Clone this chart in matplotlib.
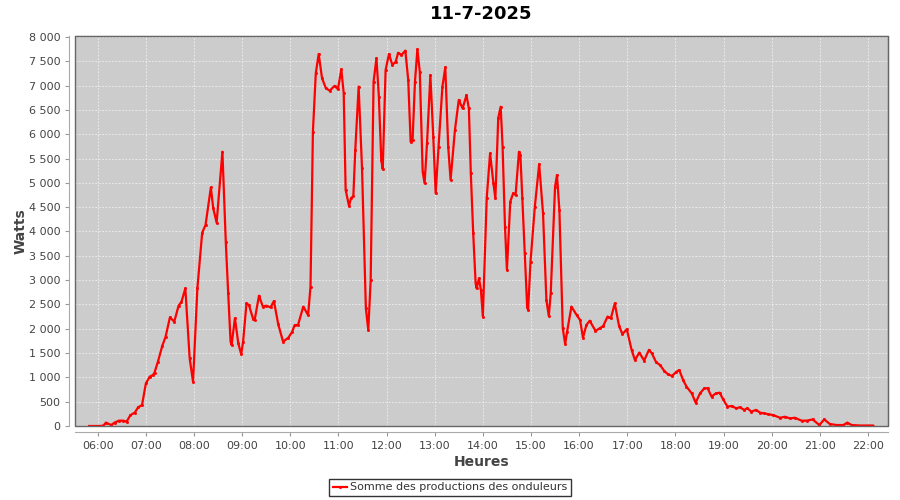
import matplotlib
matplotlib.use("Agg")
import matplotlib.pyplot as plt
from matplotlib.ticker import FuncFormatter, MultipleLocator
from matplotlib.patches import Rectangle

title = "11-7-2025"
series_name = "Somme des productions des onduleurs"

# time of day in hours, production in watts
hours = [
    5.82, 5.95, 6.05, 6.12, 6.17, 6.28, 6.35, 6.44, 6.53, 6.60, 6.68, 6.77, 6.84, 6.92,
    7.00, 7.08, 7.15, 7.18, 7.25, 7.34, 7.41, 7.50, 7.59, 7.68, 7.74, 7.82, 7.91, 7.98,
    8.07, 8.17, 8.24, 8.35, 8.40, 8.47, 8.59, 8.66, 8.71, 8.76, 8.78, 8.85, 8.92, 8.98,
    9.02, 9.09, 9.14, 9.23, 9.26, 9.35, 9.43, 9.50, 9.59, 9.66, 9.75, 9.85, 9.96,
    10.04, 10.09, 10.16, 10.27, 10.37, 10.42, 10.47, 10.53, 10.59, 10.66, 10.74, 10.82,
    10.92, 10.99, 11.06, 11.11, 11.15, 11.22, 11.26, 11.31, 11.35, 11.42, 11.49, 11.57,
    11.62, 11.67, 11.73, 11.79, 11.84, 11.89, 11.92, 11.98, 12.05, 12.12, 12.19, 12.24,
    12.31, 12.39, 12.45, 12.50, 12.54, 12.59, 12.64, 12.69, 12.75, 12.79, 12.84, 12.91,
    12.97, 13.02, 13.08, 13.16, 13.22, 13.28, 13.33, 13.42, 13.50, 13.58, 13.66, 13.71,
    13.75, 13.80, 13.85, 13.87, 13.92, 13.96, 14.00, 14.08, 14.15, 14.22, 14.26, 14.32,
    14.37, 14.41, 14.46, 14.50, 14.57, 14.63, 14.68, 14.75, 14.78, 14.82, 14.87, 14.92,
    14.94, 14.99, 15.08, 15.17, 15.25, 15.32, 15.37, 15.41, 15.50, 15.54, 15.59, 15.66,
    15.71, 15.75, 15.84, 15.95, 16.02, 16.08, 16.15, 16.22, 16.34, 16.43, 16.50, 16.59,
    16.66, 16.74, 16.83, 16.90, 16.99, 17.09, 17.16, 17.25, 17.35, 17.45, 17.51, 17.60,
    17.68, 17.77, 17.85, 17.93, 18.02, 18.08, 18.16, 18.23, 18.34, 18.42, 18.51, 18.60,
    18.67, 18.75, 18.84, 18.92, 18.99, 19.08, 19.17, 19.26, 19.34, 19.43, 19.49, 19.58,
    19.67, 19.76, 19.84, 19.93, 20.03, 20.17, 20.28, 20.38, 20.48, 20.62, 20.73, 20.85,
    20.99, 21.09, 21.21, 21.35, 21.49, 21.57, 21.66, 21.83, 22.10,
]
watts = [
    0, 0, 0, 10, 70, 20, 70, 110, 110, 90, 225, 275, 385, 430,
    875, 1015, 1050, 1100, 1320, 1645, 1835, 2235, 2145, 2475, 2555, 2830, 1390, 910,
    2830, 3975, 4135, 4905, 4475, 4180, 5640, 3790, 2730, 1735, 1665, 2215, 1700, 1475,
    1735, 2520, 2490, 2195, 2180, 2680, 2455, 2475, 2440, 2570, 2090, 1735, 1815,
    1940, 2075, 2075, 2455, 2280, 2865, 6055, 7255, 7650, 7150, 6945, 6895,
    6995, 6925, 7335, 6840, 4855, 4525, 4680, 4730, 5675, 6980, 5300, 2420,
    1975, 3000, 7080, 7560, 6775, 5470, 5280, 7320, 7650, 7425, 7490, 7675,
    7630, 7720, 7115, 5845, 5880, 7080, 7745, 7285, 5230, 4990, 5810, 7215,
    5950, 4785, 5745, 6980, 7375, 5745, 5060, 6085, 6705, 6530, 6805, 6530,
    5195, 3960, 2935, 2830, 3035, 2795, 2250, 4680, 5605, 4990, 4680, 6335,
    6565, 5745, 4100, 3210, 4615, 4785, 4750, 5640, 5570, 4680, 3550, 2455,
    2385, 3380, 4510, 5385, 4375, 2590, 2260, 2730, 4920, 5160, 4440, 2010,
    1685, 1940, 2455, 2280, 2180, 1815, 2075, 2165, 1955, 2010, 2055, 2250,
    2215, 2520, 2055, 1890, 1990, 1565, 1355, 1510, 1345, 1565, 1495, 1310,
    1255, 1130, 1060, 1030, 1115, 1150, 945, 810, 670, 480, 670, 775,
    775, 605, 670, 685, 550, 400, 410, 365, 385, 330, 365, 295,
    330, 275, 260, 245, 225, 170, 190, 155, 170, 110, 110, 135,
    20, 135, 40, 20, 20, 70, 20, 10, 10,
]
hour_ticks = list(range(6, 23))

plt.rcParams.update({"font.family": "DejaVu Sans", "font.size": 8})

fig = plt.figure(figsize=(9, 5), dpi=100)
fig.set_facecolor("white")
ax = fig.add_axes([75 / 900, 74 / 500, 813 / 900, 390 / 500])
ax.set_facecolor("#cccccc")

ax.plot(hours, watts, color="#ff0000", linewidth=1.6, marker="s", markersize=1.0,
        label=series_name, solid_joinstyle="round")

ax.set_xlim(5.528, 22.416)
ax.set_ylim(0, 8020)
ax.yaxis.set_major_locator(MultipleLocator(500))
ax.yaxis.set_major_formatter(FuncFormatter(lambda v, p: f"{int(v):,}".replace(",", " ")))
ax.set_xticks(hour_ticks)
ax.set_xticklabels([f"{h:02d}:00" for h in hour_ticks])

ax.grid(True, color="#f2f2f2", linestyle=(0, (2, 2)), linewidth=0.6)
ax.set_axisbelow(True)

# plot border plus separate light axis lines a few pixels away
for side in ["top", "right"]:
    ax.spines[side].set_color("#666666")
for side in ["left", "bottom"]:
    ax.spines[side].set_position(("outward", 4))
    ax.spines[side].set_color("#aaaaaa")
ax.add_patch(Rectangle((0, 0), 1, 1, transform=ax.transAxes, fill=False,
                       edgecolor="#666666", linewidth=1, clip_on=False, zorder=5))
ax.tick_params(colors="#999999", labelcolor="#444444", length=3, width=0.8, labelsize=8)

ax.set_title(title, fontsize=13, fontweight="bold", pad=12)
ax.set_xlabel("Heures", fontsize=10, fontweight="bold", color="#444444", labelpad=3)
ax.set_ylabel("Watts", fontsize=10, fontweight="bold", color="#444444", labelpad=1)

leg = fig.legend(loc="center", bbox_to_anchor=(450 / 900, 12.5 / 500), ncol=1,
                 frameon=True, fancybox=False, edgecolor="black", fontsize=8,
                 handlelength=1.3, handletextpad=0.25, borderpad=0.35, borderaxespad=0)
leg.get_frame().set_linewidth(1)
for t in leg.get_texts():
    t.set_color("#333333")

fig.savefig("out.png", dpi=100)
